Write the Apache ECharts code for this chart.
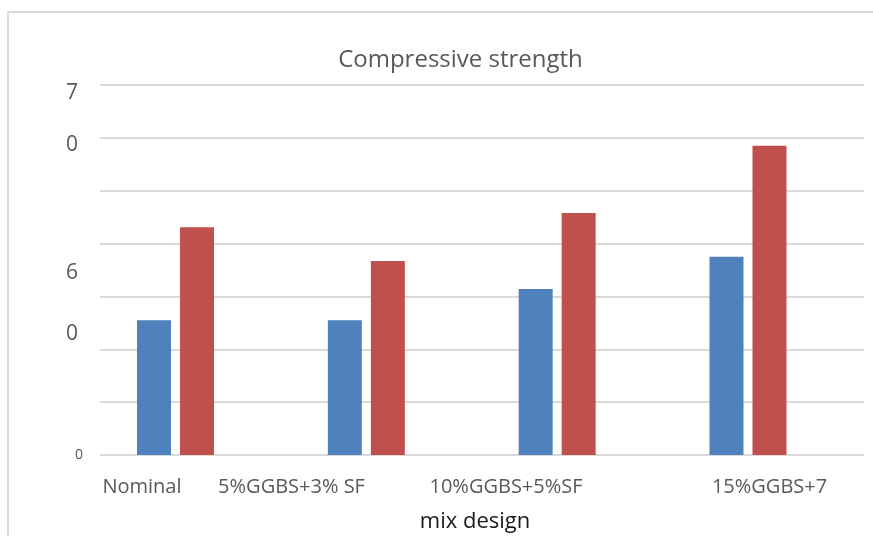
<!DOCTYPE html>
<html>
<head>
<meta charset="utf-8">
<script src="https://cdn.jsdelivr.net/npm/echarts@6/dist/echarts.min.js"></script>
<style>
  html, body { margin: 0; padding: 0; background: #ffffff; }
  #chart { width: 873px; height: 536px; }
</style>
</head>
<body>
<div id="chart"></div>
<script>
// ---- data ----
var categories = ['Nominal', '5%GGBS+3% SF', '10%GGBS+5%SF', '15%GGBS+7'];
var seriesA = [25.5, 25.5, 31.4, 37.5];
var seriesB = [43.1, 36.7, 45.8, 58.5];
// x tick label anchors (in category-index units) as they appear in the source
var xLabelAnchors = [-0.176, 0.608, 1.732, 3.113];
// y tick labels (garbled in the source) and their values
var yTickValues = [0, 22.8, 34.4, 58.7, 68.5];
var yTickLabels = ['0', '0', '6', '0', '7'];
var chartTitle = 'Compressive strength';
var xAxisTitle = 'mix design';

var FONT = 'Open Sans';
var chart = echarts.init(document.getElementById('chart'), null, { renderer: 'canvas' });

function nearestIndex(arr, v) {
  var best = 0, d = Infinity;
  for (var i = 0; i < arr.length; i++) {
    var dd = Math.abs(arr[i] - v);
    if (dd < d) { d = dd; best = i; }
  }
  return best;
}

var option = {
  backgroundColor: '#ffffff',
  animation: false,
  title: {
    text: chartTitle,
    left: 455.5,
    textAlign: 'center',
    top: 43,
    textStyle: { fontFamily: FONT, fontSize: 24, fontWeight: 'normal', color: '#595959' }
  },
  graphic: [{
    type: 'rect',
    silent: true,
    z: -10,
    shape: { x: 8, y: 12, width: 900, height: 600 },
    style: { fill: 'none', stroke: '#d9d9d9', lineWidth: 2 }
  }],
  grid: [
    { left: 100, right: 9, top: 85, bottom: 81, containLabel: false, outerBoundsMode: 'none' },
    { left: 80.1, right: 29.6, top: 85, bottom: 81, containLabel: false, outerBoundsMode: 'none' }
  ],
  xAxis: [
    { // grid lines frame + axis title
      type: 'value', gridIndex: 0, min: 0, max: 1,
      axisLine: { show: false }, axisTick: { show: false },
      axisLabel: { show: false }, splitLine: { show: false },
      name: xAxisTitle, nameLocation: 'middle', nameGap: 56,
      nameTextStyle: { fontFamily: FONT, fontSize: 22, color: '#1a1a1a', padding: [0, 14, 0, 0] }
    },
    { // bars
      type: 'category', gridIndex: 1, data: categories,
      axisLine: { show: false }, axisTick: { show: false },
      axisLabel: { show: false }, splitLine: { show: false }
    },
    { // tick labels
      type: 'value', gridIndex: 1, min: -0.5, max: 3.5, position: 'bottom',
      axisLine: { show: false }, axisTick: { show: false }, splitLine: { show: false },
      axisLabel: {
        customValues: xLabelAnchors,
        margin: 22,
        fontFamily: FONT, fontSize: 20, color: '#595959',
        formatter: function (v) { return categories[nearestIndex(xLabelAnchors, v)]; }
      }
    }
  ],
  yAxis: [
    { // grid lines
      type: 'value', gridIndex: 0, min: 0, max: 70, interval: 10, position: 'left',
      axisLine: { show: false }, axisTick: { show: false }, axisLabel: { show: false },
      splitLine: { show: true, lineStyle: { color: '#d9d9d9', width: 2 } }
    },
    { // tick labels
      type: 'value', gridIndex: 0, min: 0, max: 70, position: 'left',
      axisLine: { show: false }, axisTick: { show: false }, splitLine: { show: false },
      axisLabel: {
        customValues: yTickValues,
        margin: 17,
        formatter: function (v) {
          var i = nearestIndex(yTickValues, v);
          return i === 0 ? '{s|' + yTickLabels[i] + '}' : '{b|' + yTickLabels[i] + '}';
        },
        rich: {
          s: { fontFamily: FONT, fontSize: 14, color: '#595959' },
          b: { fontFamily: FONT, fontSize: 21, color: '#595959', padding: [0, 5, 0, 0] }
        }
      }
    },
    { // bars
      type: 'value', gridIndex: 1, min: 0, max: 70, show: false
    }
  ],
  series: [
    {
      name: 'Series 1', type: 'bar', xAxisIndex: 1, yAxisIndex: 2,
      data: seriesA, barWidth: 34, barGap: '26.5%',
      itemStyle: { color: '#4f81bd' }
    },
    {
      name: 'Series 2', type: 'bar', xAxisIndex: 1, yAxisIndex: 2,
      data: seriesB, barWidth: 34, barGap: '26.5%',
      itemStyle: { color: '#c0504d' }
    }
  ]
};
chart.setOption(option);
</script>
</body>
</html>
